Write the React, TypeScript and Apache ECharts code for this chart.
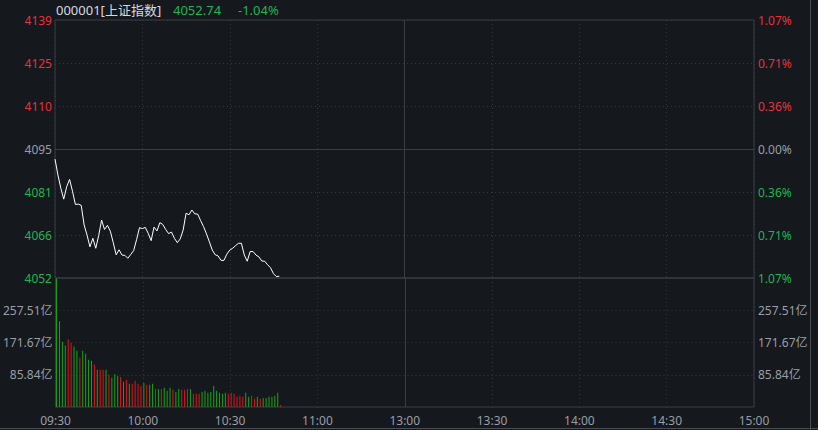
import React, { useEffect, useRef } from "react";
import * as echarts from "echarts";

const prevClose = 4095.33;
const limitPct = 1.07;
const timeLabels = ["09:30", "10:00", "10:30", "11:00", "13:00", "13:30", "14:00", "14:30", "15:00"];
const priceLabels = ["4052", "4066", "4081", "4095", "4110", "4125", "4139"];
const pctLabels = ["1.07%", "0.71%", "0.36%", "0.00%", "0.36%", "0.71%", "1.07%"];
const volLabels = ["", "85.84亿", "171.67亿", "257.51亿", ""];
const volMax = 343.35;

const prices = [
  4091.9, 4086.5, 4082, 4078.3, 4082.5, 4085, 4081, 4076.5, 4076.6, 4076.2,
  4069.5, 4066.1, 4062.1, 4065.0, 4061.6, 4066, 4071.2, 4068, 4069.4, 4067.4,
  4063.5, 4059.4, 4061.1, 4059.3, 4059.2, 4058.2, 4059.5, 4060.8, 4064.5, 4068.6,
  4068.3, 4068.7, 4066.7, 4064.2, 4068.8, 4067.5, 4070.3, 4069.7, 4068, 4066.6,
  4067.1, 4065, 4063.5, 4064.8, 4067.8, 4073.5, 4073, 4074.6, 4073.3, 4073.2,
  4071, 4069, 4066.5, 4063.8, 4061, 4059.4, 4059, 4057.5, 4057.5, 4059.6,
  4061, 4061.6, 4062.5, 4063.3, 4063.3, 4059.3, 4057.2, 4060.5, 4060.5, 4059.3,
  4058.7, 4057.3, 4057.2, 4056, 4055, 4053, 4052, 4052.1,
];

const volumes = [
  342, 228, 174, 164, 180, 171, 161, 150, 131, 150,
  142, 126, 123, 113, 99, 99, 99, 99, 86, 78,
  88, 83, 80, 67, 72, 62, 62, 70, 62, 56,
  64, 59, 59, 62, 48, 48, 48, 51, 43, 51,
  46, 40, 48, 46, 46, 48, 48, 35, 35, 35,
  40, 43, 38, 40, 56, 43, 38, 35, 38, 35,
  38, 35, 27, 30, 27, 38, 27, 30, 22, 27,
  22, 24, 24, 27, 27, 30, 38, 5,
];

// 1 = up (red), -1 = down (green)
const volDir = [
  -1, -1, -1, -1, 1, 1, -1, -1, 1, -1,
  -1, -1, -1, 1, -1, 1, 1, -1, 1, -1,
  -1, -1, 1, -1, 1, -1, 1, 1, 1, 1,
  -1, 1, -1, -1, 1, -1, 1, -1, -1, -1,
  1, -1, -1, 1, 1, 1, -1, 1, 1, 1,
  -1, -1, -1, -1, -1, -1, -1, -1, -1, 1,
  1, 1, 1, 1, 1, -1, -1, 1, 1, -1,
  1, -1, -1, -1, -1, -1, -1, 1,
];

const BG = "#15181d";
const RED = "#e8303a";
const GREEN = "#1db650";
const GRAY = "#9a9ea6";
const BORDER = "#3a3d43";
const DOT = "#33363c";
const FONT = "'Noto Sans', 'Noto Sans CJK SC', sans-serif";
const BAR_RED = "#e01515";
const BAR_GREEN = "#13a813";
const BAR_SHIFT = 0.35; // bars sit just right of the minute tick

export default function App() {
  const ref = useRef<HTMLDivElement>(null);
  useEffect(() => {
    if (!ref.current) return;
    const chart = echarts.init(ref.current, undefined, { renderer: "svg" });
    const step = (prevClose * limitPct) / 100 / 3;
    const lineData = prices.map((p, i) => [i, (p - prevClose) / step]);
    const barData = volumes.map((v, i) => ({
      value: [i + BAR_SHIFT, v],
      itemStyle: { color: volDir[i] > 0 ? BAR_RED : BAR_GREEN },
    }));
    const priceColor = (v: number) => {
      const r = Math.round(v);
      return r > 0 ? RED : r < 0 ? GREEN : GRAY;
    };
    const dotted = { color: DOT, type: [1, 3] as any, width: 1 };
    const solidMark = { color: BORDER, type: "solid" as any, width: 1 };
    chart.setOption({
      animation: false,
      backgroundColor: BG,
      textStyle: { fontFamily: FONT },
      grid: [
        { left: 55, right: 64, top: 20, height: 258, show: true, borderColor: BORDER, borderWidth: 1, backgroundColor: "transparent" },
        { left: 55, right: 64, top: 278, height: 129, show: true, borderColor: BORDER, borderWidth: 1, backgroundColor: "transparent" },
      ],
      graphic: [
        { type: "text", left: 56, top: 3, style: { text: "000001[上证指数]", fill: "#d6dbe3", font: `13px ${FONT}` } },
        { type: "text", left: 173, top: 3, style: { text: "4052.74", fill: GREEN, font: `13px ${FONT}` } },
        { type: "text", left: 238, top: 3, style: { text: "-1.04%", fill: GREEN, font: `13px ${FONT}` } },
        { type: "line", shape: { x1: 810.5, y1: 0, x2: 810.5, y2: 430 }, style: { stroke: "#4a4d53", lineWidth: 1 } },
        { type: "line", shape: { x1: 0, y1: 428.5, x2: 818, y2: 428.5 }, style: { stroke: "#4a4d53", lineWidth: 1 } },
      ],
      xAxis: [
        {
          type: "value", gridIndex: 0, min: 0, max: 240, interval: 30,
          axisLine: { show: false }, axisTick: { show: false }, axisLabel: { show: false },
          splitLine: { show: true, lineStyle: dotted },
        },
        {
          type: "value", gridIndex: 1, min: 0, max: 240, interval: 30,
          axisLine: { show: false }, axisTick: { show: false },
          axisLabel: {
            show: true, color: GRAY, fontSize: 12, fontFamily: FONT, margin: 7,
            formatter: (v: number) => timeLabels[Math.round(v / 30)] ?? "",
          },
          splitLine: { show: true, lineStyle: dotted },
        },
      ],
      yAxis: [
        {
          type: "value", gridIndex: 0, min: -3, max: 3, interval: 1, position: "left",
          axisLine: { show: false }, axisTick: { show: false },
          axisLabel: {
            color: (v: any) => priceColor(Number(v)), fontSize: 12, fontFamily: FONT, margin: 3,
            formatter: (v: number) => priceLabels[Math.round(v) + 3] ?? "",
          },
          splitLine: { show: true, lineStyle: dotted },
        },
        {
          type: "value", gridIndex: 0, min: -3, max: 3, interval: 1, position: "right",
          axisLine: { show: false }, axisTick: { show: false },
          axisLabel: {
            color: (v: any) => priceColor(Number(v)), fontSize: 12, fontFamily: FONT, margin: 4,
            formatter: (v: number) => pctLabels[Math.round(v) + 3] ?? "",
          },
          splitLine: { show: false },
        },
        {
          type: "value", gridIndex: 1, min: 0, max: volMax, interval: volMax / 4, position: "left",
          axisLine: { show: false }, axisTick: { show: false },
          axisLabel: {
            color: GRAY, fontSize: 12, fontFamily: FONT, margin: 3,
            formatter: (v: number) => volLabels[Math.round(v / (volMax / 4))] ?? "",
          },
          splitLine: { show: true, lineStyle: dotted },
        },
        {
          type: "value", gridIndex: 1, min: 0, max: volMax, interval: volMax / 4, position: "right",
          axisLine: { show: false }, axisTick: { show: false },
          axisLabel: {
            color: GRAY, fontSize: 12, fontFamily: FONT, margin: 4,
            formatter: (v: number) => volLabels[Math.round(v / (volMax / 4))] ?? "",
          },
          splitLine: { show: false },
        },
      ],
      series: [
        {
          type: "line", xAxisIndex: 0, yAxisIndex: 0, data: lineData, showSymbol: false,
          lineStyle: { color: "#ffffff", width: 1 }, z: 5,
          markLine: {
            silent: true, symbol: "none", label: { show: false }, lineStyle: solidMark,
            data: [{ yAxis: 0 }, { xAxis: 120 }],
          },
        },
        {
          type: "bar", xAxisIndex: 1, yAxisIndex: 2, data: barData, barWidth: 1, clip: false, z: 5,
          markLine: {
            silent: true, symbol: "none", label: { show: false }, lineStyle: solidMark,
            data: [{ xAxis: 120 }],
          },
        },
      ],
    });
    return () => chart.dispose();
  }, []);
  return <div ref={ref} style={{ position: "fixed", left: 0, top: 0, width: 818, height: 430 }} />;
}
